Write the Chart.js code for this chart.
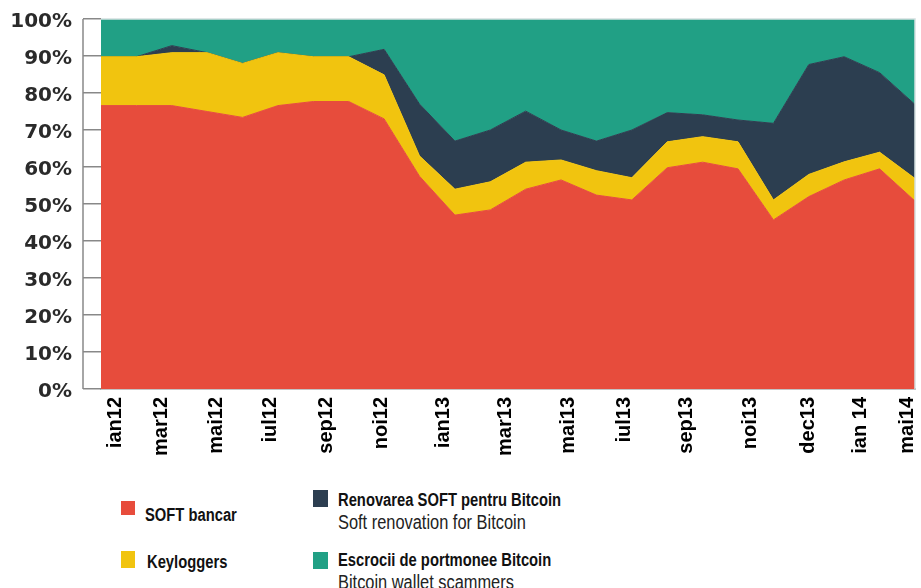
<!DOCTYPE html>
<html>
<head>
<meta charset="utf-8">
<script src="https://cdn.jsdelivr.net/npm/chart.js@4.4.1/dist/chart.umd.min.js"></script>
<style>
body{margin:0;background:#fff;width:921px;height:588px;overflow:hidden;position:relative;font-family:"Liberation Sans",Arial,sans-serif;}
#wrap{position:absolute;left:0;top:0;width:921px;height:480px;}
.sw{position:absolute;}
.t{position:absolute;white-space:nowrap;line-height:1;transform:scaleX(0.82);transform-origin:0 0;}
.b{font-weight:bold;font-size:18px;color:#111;}
.r{font-size:20px;color:#222;}
</style>
</head>
<body>
<div id="wrap"><canvas id="myChart"></canvas></div>
<div id="legend"></div>
<script>
'use strict';
// tick labels and where they sit along the month index
const monthLabels=['ian12','mar12','mai12','iul12','sep12','noi12','ian13','mar13','mai13','iul13','sep13','noi13','dec13','ian 14','mai14'];
const tickAt=[0.4,1.72,3.27,4.8,6.38,7.92,9.69,11.42,13.22,14.78,16.55,18.36,20.0,21.45,22.78];

// share of each threat, percent (24 readings)
const softBancar=[76.6,76.6,76.6,75.0,73.4,76.6,77.7,77.7,73.0,57.5,47.0,48.4,54.0,56.5,52.4,51.1,59.8,61.3,59.5,45.7,52.0,56.5,59.5,50.8];
const keyloggers=[13.2,13.2,14.3,15.9,14.6,14.3,12.1,12.1,11.9,5.5,7.0,7.6,7.3,5.4,6.6,6.0,7.0,6.9,7.3,5.4,6.0,4.9,4.5,6.1];
const renovare=[0,0,1.9,0,0,0,0,0,6.9,14.0,13.0,14.0,13.8,8.1,8.0,12.9,7.9,5.9,5.9,20.7,29.7,28.4,21.5,20.0];
const escrocii=[10.2,10.2,7.2,9.1,12.0,9.1,10.2,10.2,8.2,23.0,33.0,30.0,24.9,30.0,33.0,30.0,25.3,25.9,27.3,28.2,12.3,10.2,14.5,23.1];

const seriesNames=['SOFT bancar','Keyloggers','Renovarea SOFT pentru Bitcoin','Escrocii de portmonee Bitcoin'];
const seriesSub=['','','Soft renovation for Bitcoin','Bitcoin wallet scammers'];
const colors=['#e74c3c','#f1c40f','#2c3e50','#21a085'];

const yTicks=[0,10,20,30,40,50,60,70,80,90,100];

function toPoints(arr){
  return arr.map((v,i)=>({x:i,y:v}));
}

const allSeries=[softBancar,keyloggers,renovare,escrocii];
const datasets=allSeries.map((s,i)=>({
  label:seriesNames[i],
  data:toPoints(s),
  backgroundColor:colors[i],
  borderColor:colors[i],
  borderWidth:1,
  pointRadius:0,
  tension:0,
  fill:i===0?'origin':'-1'
}));

// frame: vertical rule left of the ticks, light border on top/right
const framePlugin={
  id:'frame',
  afterDraw(chart){
    const ctx=chart.ctx;
    const a=chart.chartArea;
    ctx.save();
    ctx.strokeStyle='#888';
    ctx.lineWidth=1.5;
    ctx.beginPath();
    ctx.moveTo(a.left-18,a.top);
    ctx.lineTo(a.left-18,a.bottom);
    ctx.stroke();
    ctx.strokeStyle='#d3e0e0';
    ctx.lineWidth=1.5;
    ctx.beginPath();
    ctx.moveTo(a.left,a.top);
    ctx.lineTo(a.right,a.top);
    ctx.lineTo(a.right,a.bottom);
    ctx.stroke();
    ctx.restore();
  }
};

const ctx=document.getElementById('myChart').getContext('2d');
new Chart(ctx,{
  type:'line',
  data:{datasets:datasets},
  options:{
    responsive:true,
    maintainAspectRatio:false,
    animation:false,
    layout:{padding:{top:19,right:6,left:0,bottom:0}},
    plugins:{legend:{display:false},tooltip:{enabled:false}},
    scales:{
      x:{
        type:'linear',
        min:0,
        max:23,
        afterBuildTicks(scale){
          scale.ticks=tickAt.map(v=>({value:v}));
        },
        afterFit(scale){
          scale.height=91;
          scale.paddingLeft=0;
          scale.paddingRight=0;
        },
        grid:{display:false,drawTicks:false},
        border:{display:true,color:'#888',width:1.5},
        ticks:{
          autoSkip:false,
          minRotation:90,
          maxRotation:90,
          padding:8,
          color:'#000',
          font:{family:'"Liberation Sans",Arial,sans-serif',size:20,weight:'bold'},
          callback:(v,i)=>monthLabels[i]
        }
      },
      y:{
        stacked:true,
        min:0,
        max:100,
        afterBuildTicks(scale){
          scale.ticks=yTicks.map(v=>({value:v}));
        },
        afterFit(scale){
          scale.width=101;
          scale.paddingTop=0;
          scale.paddingBottom=0;
        },
        grid:{drawOnChartArea:false,drawTicks:true,tickLength:18,color:'#888',lineWidth:1.5},
        border:{display:false},
        ticks:{
          padding:11,
          labelOffset:3,
          color:'#2a2a2a',
          font:{family:'"DejaVu Sans",sans-serif',size:20,weight:'bold'},
          callback:v=>v+'%'
        }
      }
    }
  },
  plugins:[framePlugin]
});

// legend built in HTML (two-line entries)
const legendSpots=[
  {sq:[121,501,14,14],tx:[145,505.6]},
  {sq:[121,551,14,17],tx:[147,552.6]},
  {sq:[313,490,15,17],tx:[338,490.6]},
  {sq:[313,552,15,17],tx:[338,550.6]}
];
const legendEl=document.getElementById('legend');
seriesNames.forEach((name,i)=>{
  const spot=legendSpots[i];
  const sq=document.createElement('div');
  sq.className='sw';
  sq.style.left=spot.sq[0]+'px';
  sq.style.top=spot.sq[1]+'px';
  sq.style.width=spot.sq[2]+'px';
  sq.style.height=spot.sq[3]+'px';
  sq.style.background=colors[i];
  legendEl.appendChild(sq);
  const t=document.createElement('div');
  t.className='t b';
  t.style.left=spot.tx[0]+'px';
  t.style.top=spot.tx[1]+'px';
  t.textContent=name;
  legendEl.appendChild(t);
  if(seriesSub[i]){
    const s=document.createElement('div');
    s.className='t r';
    s.style.left=spot.tx[0]+'px';
    s.style.top=(spot.tx[1]+21.8)+'px';
    s.textContent=seriesSub[i];
    legendEl.appendChild(s);
  }
});
</script>
</body>
</html>
